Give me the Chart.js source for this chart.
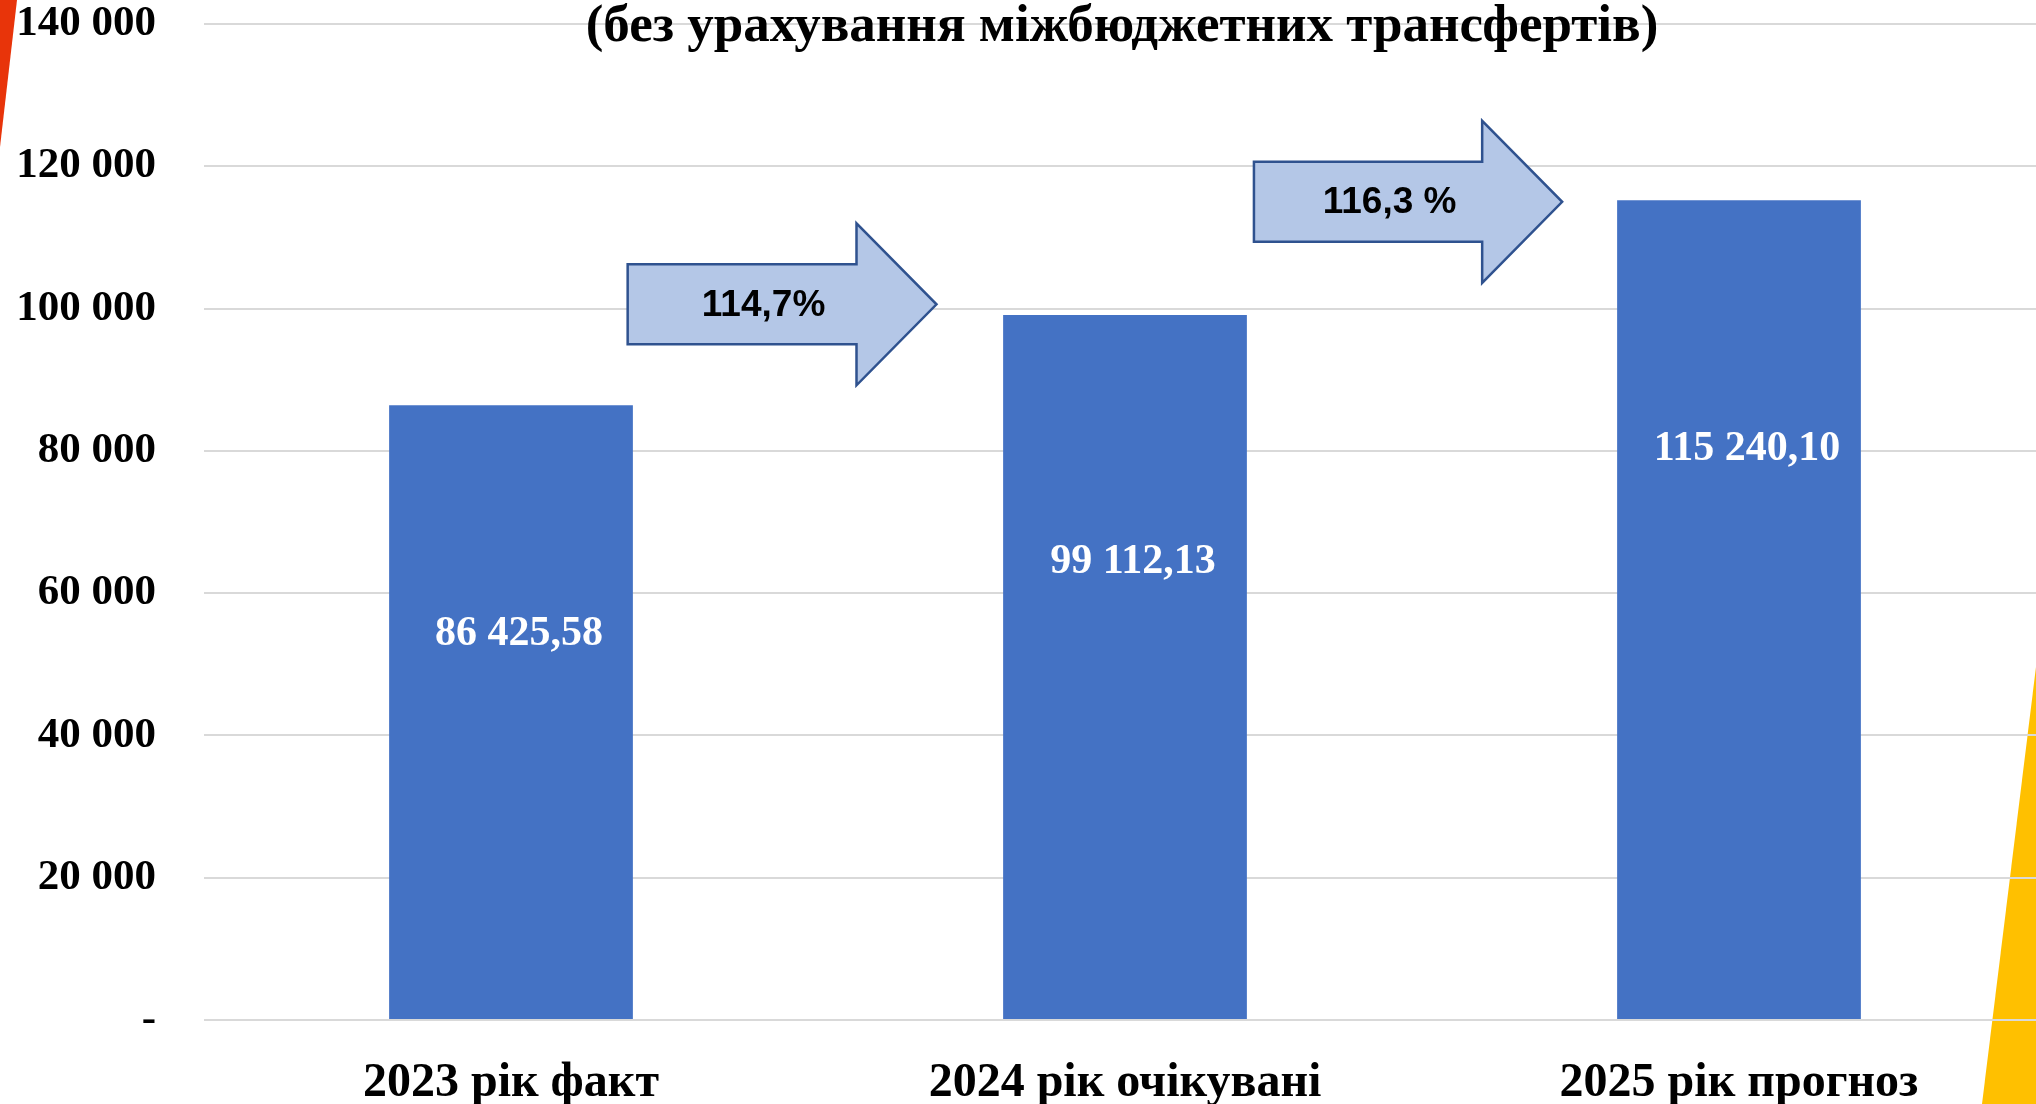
<!DOCTYPE html>
<html lang="uk">
<head>
<meta charset="utf-8">
<title>Доходи бюджету</title>
<script src="https://cdn.jsdelivr.net/npm/chart.js@4.4.0/dist/chart.umd.js"></script>
<style>
    html, body { margin: 0; padding: 0; background: #fff; overflow: hidden; }
    #wrap { position: relative; width: 2046px; height: 1104px; }
</style>
</head>
<body>
<div id="wrap"><canvas id="chart"></canvas></div>
<script>
const categories = ['2023 рік факт', '2024 рік очікувані', '2025 рік прогноз'];
const revenue = [86425.58, 99112.13, 115240.10];
const valueLabels = ['86 425,58', '99 112,13', '115 240,10'];
const growthLabels = ['114,7%', '116,3 %'];
const growthLevels = [100600, 115000];
const yTicks = [0, 20000, 40000, 60000, 80000, 100000, 120000, 140000];
const yTickLabels = ['-', '20 000', '40 000', '60 000', '80 000', '100 000', '120 000', '140 000'];
const title = '(без урахування міжбюджетних трансфертів)';

const SERIF = '"Liberation Serif", "Times New Roman", serif';

function drawArrow(ctx, x0, x1, yc, bodyH, headH, headL) {
    ctx.beginPath();
    ctx.moveTo(x0, yc - bodyH / 2);
    ctx.lineTo(x1 - headL, yc - bodyH / 2);
    ctx.lineTo(x1 - headL, yc - headH / 2);
    ctx.lineTo(x1, yc);
    ctx.lineTo(x1 - headL, yc + headH / 2);
    ctx.lineTo(x1 - headL, yc + bodyH / 2);
    ctx.lineTo(x0, yc + bodyH / 2);
    ctx.closePath();
    ctx.fill();
    ctx.stroke();
}

// corner shapes of the slide, the title line, arrows and bar labels
const decor = {
    id: 'decor',
    beforeDraw(c) {
        const ctx = c.ctx;
        ctx.save();
        ctx.fillStyle = '#E8340A';
        ctx.beginPath(); ctx.moveTo(0, 0); ctx.lineTo(17, 0); ctx.lineTo(0, 147); ctx.closePath(); ctx.fill();
        ctx.fillStyle = '#FFC000';
        ctx.beginPath(); ctx.moveTo(2046, 586); ctx.lineTo(2046, 1104); ctx.lineTo(1982, 1104); ctx.closePath(); ctx.fill();
        ctx.restore();
    },
    afterDraw(c) {
        const ctx = c.ctx, x = c.scales.x, y = c.scales.y;
        ctx.save();
        ctx.fillStyle = '#000';
        ctx.textAlign = 'center';
        ctx.textBaseline = 'middle';
        ctx.font = 'bold 53px ' + SERIF;
        ctx.fillText(title, 1122, 27);

        const from = [0.19, 0.21], to = [0.693, 0.712];
        growthLabels.forEach((t, i) => {
            const x0 = x.getPixelForValue(i + from[i]);
            const x1 = x.getPixelForValue(i + to[i]);
            const yc = y.getPixelForValue(growthLevels[i]);
            ctx.fillStyle = '#B4C7E7';
            ctx.strokeStyle = '#2F528F';
            ctx.lineWidth = 2.5;
            drawArrow(ctx, x0, x1, yc, 80, 162, 80);
            ctx.fillStyle = '#000';
            ctx.font = 'bold 37px "Liberation Sans", Arial, sans-serif';
            ctx.fillText(t, x0 + 0.44 * (x1 - x0), yc + 1);
        });

        const dy = [229, 247, 249];
        const meta = c.getDatasetMeta(0);
        ctx.fillStyle = '#fff';
        ctx.font = 'bold 42px ' + SERIF;
        meta.data.forEach((bar, i) => {
            ctx.fillText(valueLabels[i], bar.x + 8, bar.y + dy[i]);
        });
        ctx.restore();
    }
};

new Chart(document.getElementById('chart'), {
    type: 'bar',
    data: {
        labels: categories,
        datasets: [{ data: revenue, backgroundColor: '#4472C4', barPercentage: 0.397, categoryPercentage: 1 }]
    },
    options: {
        responsive: true,
        maintainAspectRatio: false,
        animation: false,
        layout: { padding: { top: 24, left: 0, right: 0, bottom: 0 } },
        plugins: { legend: { display: false }, tooltip: { enabled: false } },
        scales: {
            x: {
                grid: { display: false },
                border: { display: false },
                ticks: { color: '#000', font: { family: SERIF, size: 48, weight: 'bold' }, padding: 27 },
                afterFit: (s) => { s.height = 84; s.paddingLeft = 0; s.paddingRight = 0; }
            },
            y: {
                min: 0,
                max: 140000,
                afterBuildTicks: (s) => { s.ticks = yTicks.map((v) => ({ value: v })); },
                grid: { color: '#D9D9D9', lineWidth: 2, drawTicks: false },
                border: { display: false },
                ticks: {
                    color: '#000',
                    font: { family: SERIF, size: 43, weight: 'bold' },
                    padding: 48,
                    callback: (v) => yTickLabels[yTicks.indexOf(v)] ?? ''
                },
                afterFit: (s) => { s.width = 204; s.paddingTop = 0; s.paddingBottom = 0; }
            }
        }
    },
    plugins: [decor]
});
</script>
</body>
</html>
